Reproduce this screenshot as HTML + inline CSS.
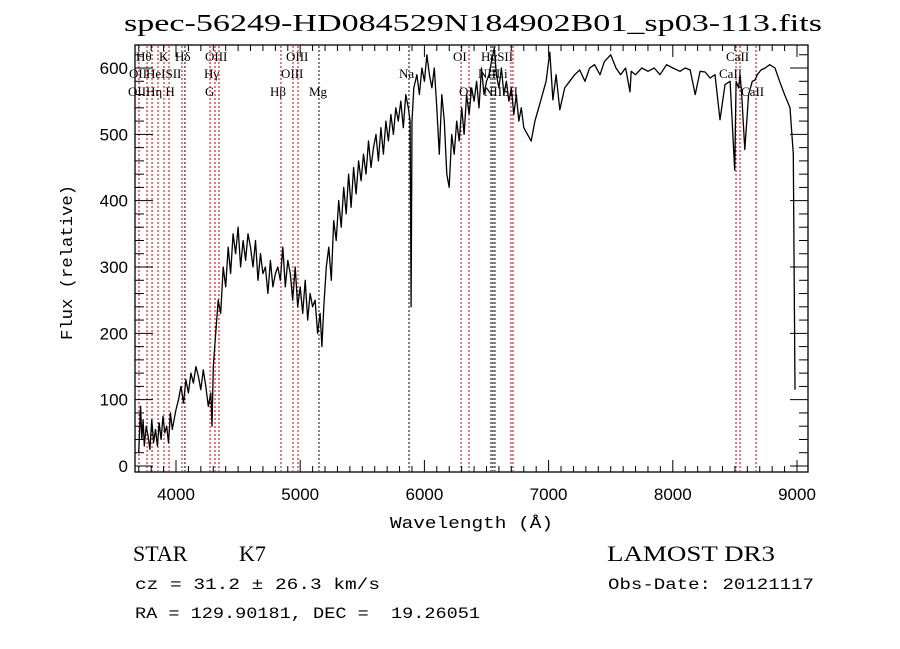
<!DOCTYPE html>
<html><head><meta charset="utf-8">
<style>
html,body{margin:0;padding:0;background:#fff;}
svg{display:block;font-family:"Liberation Serif",serif;}
</style></head>
<body>
<svg id="chart" width="900" height="649" viewBox="0 0 900 649" xmlns="http://www.w3.org/2000/svg">
<rect width="900" height="649" fill="#fff"/>
<text x="124" y="31" font-size="24" textLength="698" lengthAdjust="spacingAndGlyphs">spec-56249-HD084529N184902B01_sp03-113.fits</text>
<g id="lines"></g>
<g id="labels" font-size="13"></g>
<path id="spec" fill="none" stroke="#000" stroke-width="1.3" stroke-linejoin="round"/>
<rect x="135" y="45" width="673" height="427" fill="none" stroke="#000" stroke-width="1.3"/>
<g id="axes" stroke="#000" stroke-width="1"></g>
<g id="ticklabels" font-family="Liberation Sans, sans-serif" font-size="17"></g>
<text x="390" y="528" font-family="Liberation Mono, monospace" font-size="17" textLength="163" lengthAdjust="spacingAndGlyphs">Wavelength (Å)</text>
<text transform="translate(72,340) rotate(-90)" font-family="Liberation Mono, monospace" font-size="17" textLength="155" lengthAdjust="spacingAndGlyphs">Flux (relative)</text>
<text x="133" y="561" font-size="22">STAR</text>
<text x="239" y="561" font-size="22">K7</text>
<text x="607" y="561" font-size="22" textLength="168" lengthAdjust="spacingAndGlyphs">LAMOST DR3</text>
<text x="135" y="589" font-family="Liberation Mono, monospace" font-size="16" textLength="245" lengthAdjust="spacingAndGlyphs">cz = 31.2 ± 26.3 km/s</text>
<text x="608" y="589" font-family="Liberation Mono, monospace" font-size="16" textLength="206" lengthAdjust="spacingAndGlyphs">Obs-Date: 20121117</text>
<text x="135" y="618" font-family="Liberation Mono, monospace" font-size="16" textLength="345" lengthAdjust="spacingAndGlyphs" xml:space="preserve" style="white-space:pre">RA = 129.90181, DEC =  19.26051</text>
</svg>
<script>
const wavelengths=[3700,3715,3725,3735,3745,3760,3775,3790,3805,3820,3835,3850,3865,3880,3895,3910,3925,3940,3955,3970,3985,4000,4020,4040,4060,4080,4100,4120,4140,4160,4180,4200,4220,4240,4260,4280,4290,4300,4320,4340,4360,4380,4400,4420,4440,4460,4480,4500,4520,4540,4560,4580,4600,4620,4640,4660,4680,4700,4720,4740,4760,4780,4800,4820,4840,4860,4880,4900,4920,4940,4960,4980,5000,5020,5040,5060,5080,5100,5120,5140,5160,5175,5190,5210,5230,5250,5270,5290,5310,5330,5350,5370,5390,5410,5430,5450,5470,5490,5510,5530,5550,5570,5590,5610,5630,5650,5670,5690,5710,5730,5750,5770,5790,5810,5830,5850,5870,5885,5893,5900,5915,5940,5960,5980,6000,6020,6040,6060,6080,6100,6120,6140,6160,6180,6200,6220,6240,6260,6280,6300,6320,6340,6360,6380,6400,6420,6440,6460,6480,6500,6520,6540,6563,6580,6600,6620,6640,6660,6680,6700,6720,6740,6760,6780,6800,6830,6860,6890,6920,6950,6980,7010,7035,7060,7090,7130,7170,7210,7250,7293,7330,7370,7414,7450,7500,7543,7580,7620,7655,7665,7700,7750,7800,7850,7897,7950,8000,8058,8100,8140,8180,8220,8260,8300,8340,8380,8420,8461,8498,8510,8530,8542,8555,8580,8610,8640,8662,8680,8710,8743,8780,8823,8860,8900,8944,8970,8984,8992,8997,9000];
const fluxValues=[20,90,40,70,30,60,45,25,70,35,55,30,65,40,75,50,60,35,80,55,70,85,100,120,95,130,110,140,125,150,135,115,145,120,90,110,60,150,200,250,230,300,270,330,290,350,320,360,300,340,310,350,330,300,340,280,320,290,300,260,310,270,290,300,280,330,270,310,290,250,300,240,270,230,280,220,260,240,250,200,230,180,240,300,330,280,370,340,400,360,420,380,440,390,450,410,460,430,470,440,490,450,480,500,460,510,470,520,490,530,500,540,520,550,510,560,540,520,240,520,570,590,560,600,580,620,590,570,600,540,470,560,520,440,420,500,470,520,490,540,500,560,530,570,550,580,540,600,560,580,590,610,630,590,570,600,560,580,550,570,530,560,520,540,510,500,490,520,540,560,580,624,552,590,537,570,580,590,597,580,600,605,590,610,620,600,590,600,564,595,590,600,595,600,590,605,600,595,600,597,560,595,594,585,590,522,575,580,446,580,570,590,560,477,560,580,582,590,597,600,605,600,580,560,540,470,115];

const X0=4000,PX0=176,SX=0.1242,Y0=466,SY=0.6633;
function xs(w){return PX0+(w-X0)*SX;}
function ys(f){return Y0-f*SY;}

let d='';
for(let i=0;i<wavelengths.length;i++){d+=(i?'L':'M')+xs(wavelengths[i]).toFixed(1)+','+Math.min(471,Math.max(46,ys(fluxValues[i]))).toFixed(1);}
document.getElementById('spec').setAttribute('d',d);

const lineWaves=[3702,3767,3807,3855,3903,3944,4048,4072,4274,4314,4346,4845,4942,4982,5151,5876,6295,6359,6536,6552,6568,6697,6713,8509,8541,8670];
const lineBlack=[0,0,0,0,0,0,0,1,0,0,0,0,0,0,1,1,0,0,1,1,1,0,0,0,0,0];
const NS='http://www.w3.org/2000/svg';
const lg=document.getElementById('lines');
lineWaves.forEach((w,i)=>{
  const l=document.createElementNS(NS,'line');
  
  
  const x=xs(w);
  l.setAttribute('x1',x);l.setAttribute('x2',x);l.setAttribute('y1',46);l.setAttribute('y2',471);
  l.setAttribute('stroke',lineBlack[i]?'#000':'#c00000');l.setAttribute('stroke-width',1);l.setAttribute('stroke-dasharray','2,2');
  lg.appendChild(l);
});
const labelText=['Hθ','K','Hδ','OIII','OIII','OI','HαSII','CaII','OII','HeISII','Hγ','OIII','Na','NIILi','CaII','OII','Hη H','G','Hβ','Mg','OI','NIISII','CaII'];
const labelX=[136,159,175,205,286,453,481,726,129,146,204,281,399,478,719,128,146,205,270,309,459,484,741];
const labelY=[61,61,61,61,61,61,61,61,78,78,78,78,78,78,78,96,96,96,96,96,96,96,96];
const lbg=document.getElementById('labels');
labelText.forEach((t,i)=>{
  const e=document.createElementNS(NS,'text');
  
  
  e.setAttribute('x',labelX[i]);e.setAttribute('y',labelY[i]);e.textContent=t;lbg.appendChild(e);
});

const ax=document.getElementById('axes');
function tick(x1,y1,x2,y2){const l=document.createElementNS(NS,'line');


l.setAttribute('x1',x1);l.setAttribute('y1',y1);l.setAttribute('x2',x2);l.setAttribute('y2',y2);ax.appendChild(l);}
for(let w=3700;w<=9050;w+=100){const x=xs(w);const big=w%1000===0;const len=big?12:6;tick(x,472,x,472-len);tick(x,45,x,45+len);}
for(let f=0;f<=640;f+=20){const y=ys(f);if(y<46)continue;const big=f%100===0;const len=big?18:9;tick(135,y,135+len,y);tick(808,y,808-len,y);}
const xTicks=[4000,5000,6000,7000,8000,9000];
const yTicks=[0,100,200,300,400,500,600];
const tl=document.getElementById('ticklabels');
xTicks.forEach(w=>{const e=document.createElementNS(NS,'text');


e.setAttribute('x',xs(w));e.setAttribute('y',500);e.setAttribute('text-anchor','middle');e.textContent=w;tl.appendChild(e);});
yTicks.forEach(f=>{const e=document.createElementNS(NS,'text');


e.setAttribute('x',128);e.setAttribute('y',ys(f)+6);e.setAttribute('text-anchor','end');e.textContent=f;tl.appendChild(e);});
</script>
</body></html>
